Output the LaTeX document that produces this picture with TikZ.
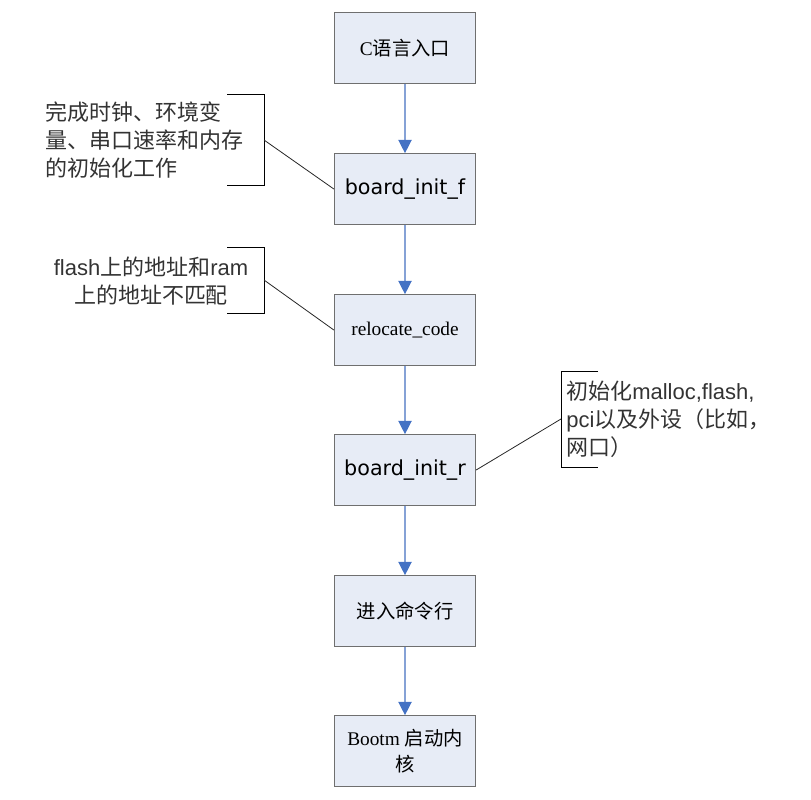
\documentclass[tikz,border=0pt]{standalone}
\usepackage{fontspec}
\setmainfont{Liberation Serif}
\newfontfamily\cjk{Noto Sans CJK SC}
\newfontfamily\tahoma{DejaVu Sans}
\newfontfamily\arial{Liberation Sans}
\usetikzlibrary{arrows.meta}

\definecolor{boxfill}{HTML}{E7ECF6}
\definecolor{boxline}{HTML}{6F6F6F}
\definecolor{flowline}{HTML}{86A2D6}
\definecolor{flowhead}{HTML}{4472C4}

\begin{document}
\begin{tikzpicture}[x=0.75pt, y=-0.75pt,
    stepbox/.style={draw=boxline, fill=boxfill, line width=0.75pt, minimum width=106pt, minimum height=53pt, inner sep=2pt, align=center, font=\fontsize{14.5}{19}\selectfont},
    sansbox/.style={stepbox, font=\tahoma\fontsize{15.5}{19}\selectfont},
    flow/.style={draw=flowline, line width=1pt, -{Triangle[width=10pt,length=10pt,color=flowhead]}},
    note/.style={inner sep=0pt, text=black!80, font=\arial\fontsize{16.5}{21}\selectfont},
    brace/.style={draw=black, line width=0.75pt},
    lead/.style={draw=black!85, line width=0.6pt}]
    \useasboundingbox (0,0) rectangle (811,800);

    % Main flow
    \node[stepbox] (entry) at (405,48) {C{\cjk 语言入口}};
    \node[sansbox] (initf) at (405,189) {board\_init\_f};
    \node[stepbox] (reloc) at (405,330) {relocate\_code};
    \node[sansbox] (initr) at (405,470) {board\_init\_r};
    \node[stepbox] (cmd) at (405,611) {\cjk 进入命令行};
    \node[stepbox] (bootm) at (405,751) {Bootm {\cjk 启动内}\\{\cjk 核}};

    \foreach \a/\b in {entry/initf, initf/reloc, reloc/initr, initr/cmd, cmd/bootm}
        \draw[flow] (\a) -- (\b);

    % Comments on the left
    \node[note, anchor=west, align=left] (noteinitf) at (45,140)
        {{\cjk 完成时钟、环境变}\\{\cjk 量、串口速率和内存}\\{\cjk 的初始化工作}};
    \draw[brace] (227,94) -| (264,185) -- (227,185);
    \coordinate (braceinitf) at (264,140);
    \draw[lead] (braceinitf) -- (initf.west);

    \node[note, align=center] (notereloc) at (151,281)
        {flash{\cjk 上的地址和}ram\\{\cjk 上的地址不匹配}};
    \draw[brace] (227,247) -| (264,313) -- (227,313);
    \coordinate (bracereloc) at (264,280);
    \draw[lead] (bracereloc) -- (reloc.west);

    % Comment on the right
    \node[note, anchor=west, align=left] (noteinitr) at (566,419)
        {{\cjk 初始化}malloc,flash,\\pci{\cjk 以及外设（比如，}\\{\cjk 网口）}};
    \draw[brace] (598,371) -| (561,467) -- (598,467);
    \coordinate (braceinitr) at (561,419);
    \draw[lead] (initr.east) -- (braceinitr);
\end{tikzpicture}
\end{document}
